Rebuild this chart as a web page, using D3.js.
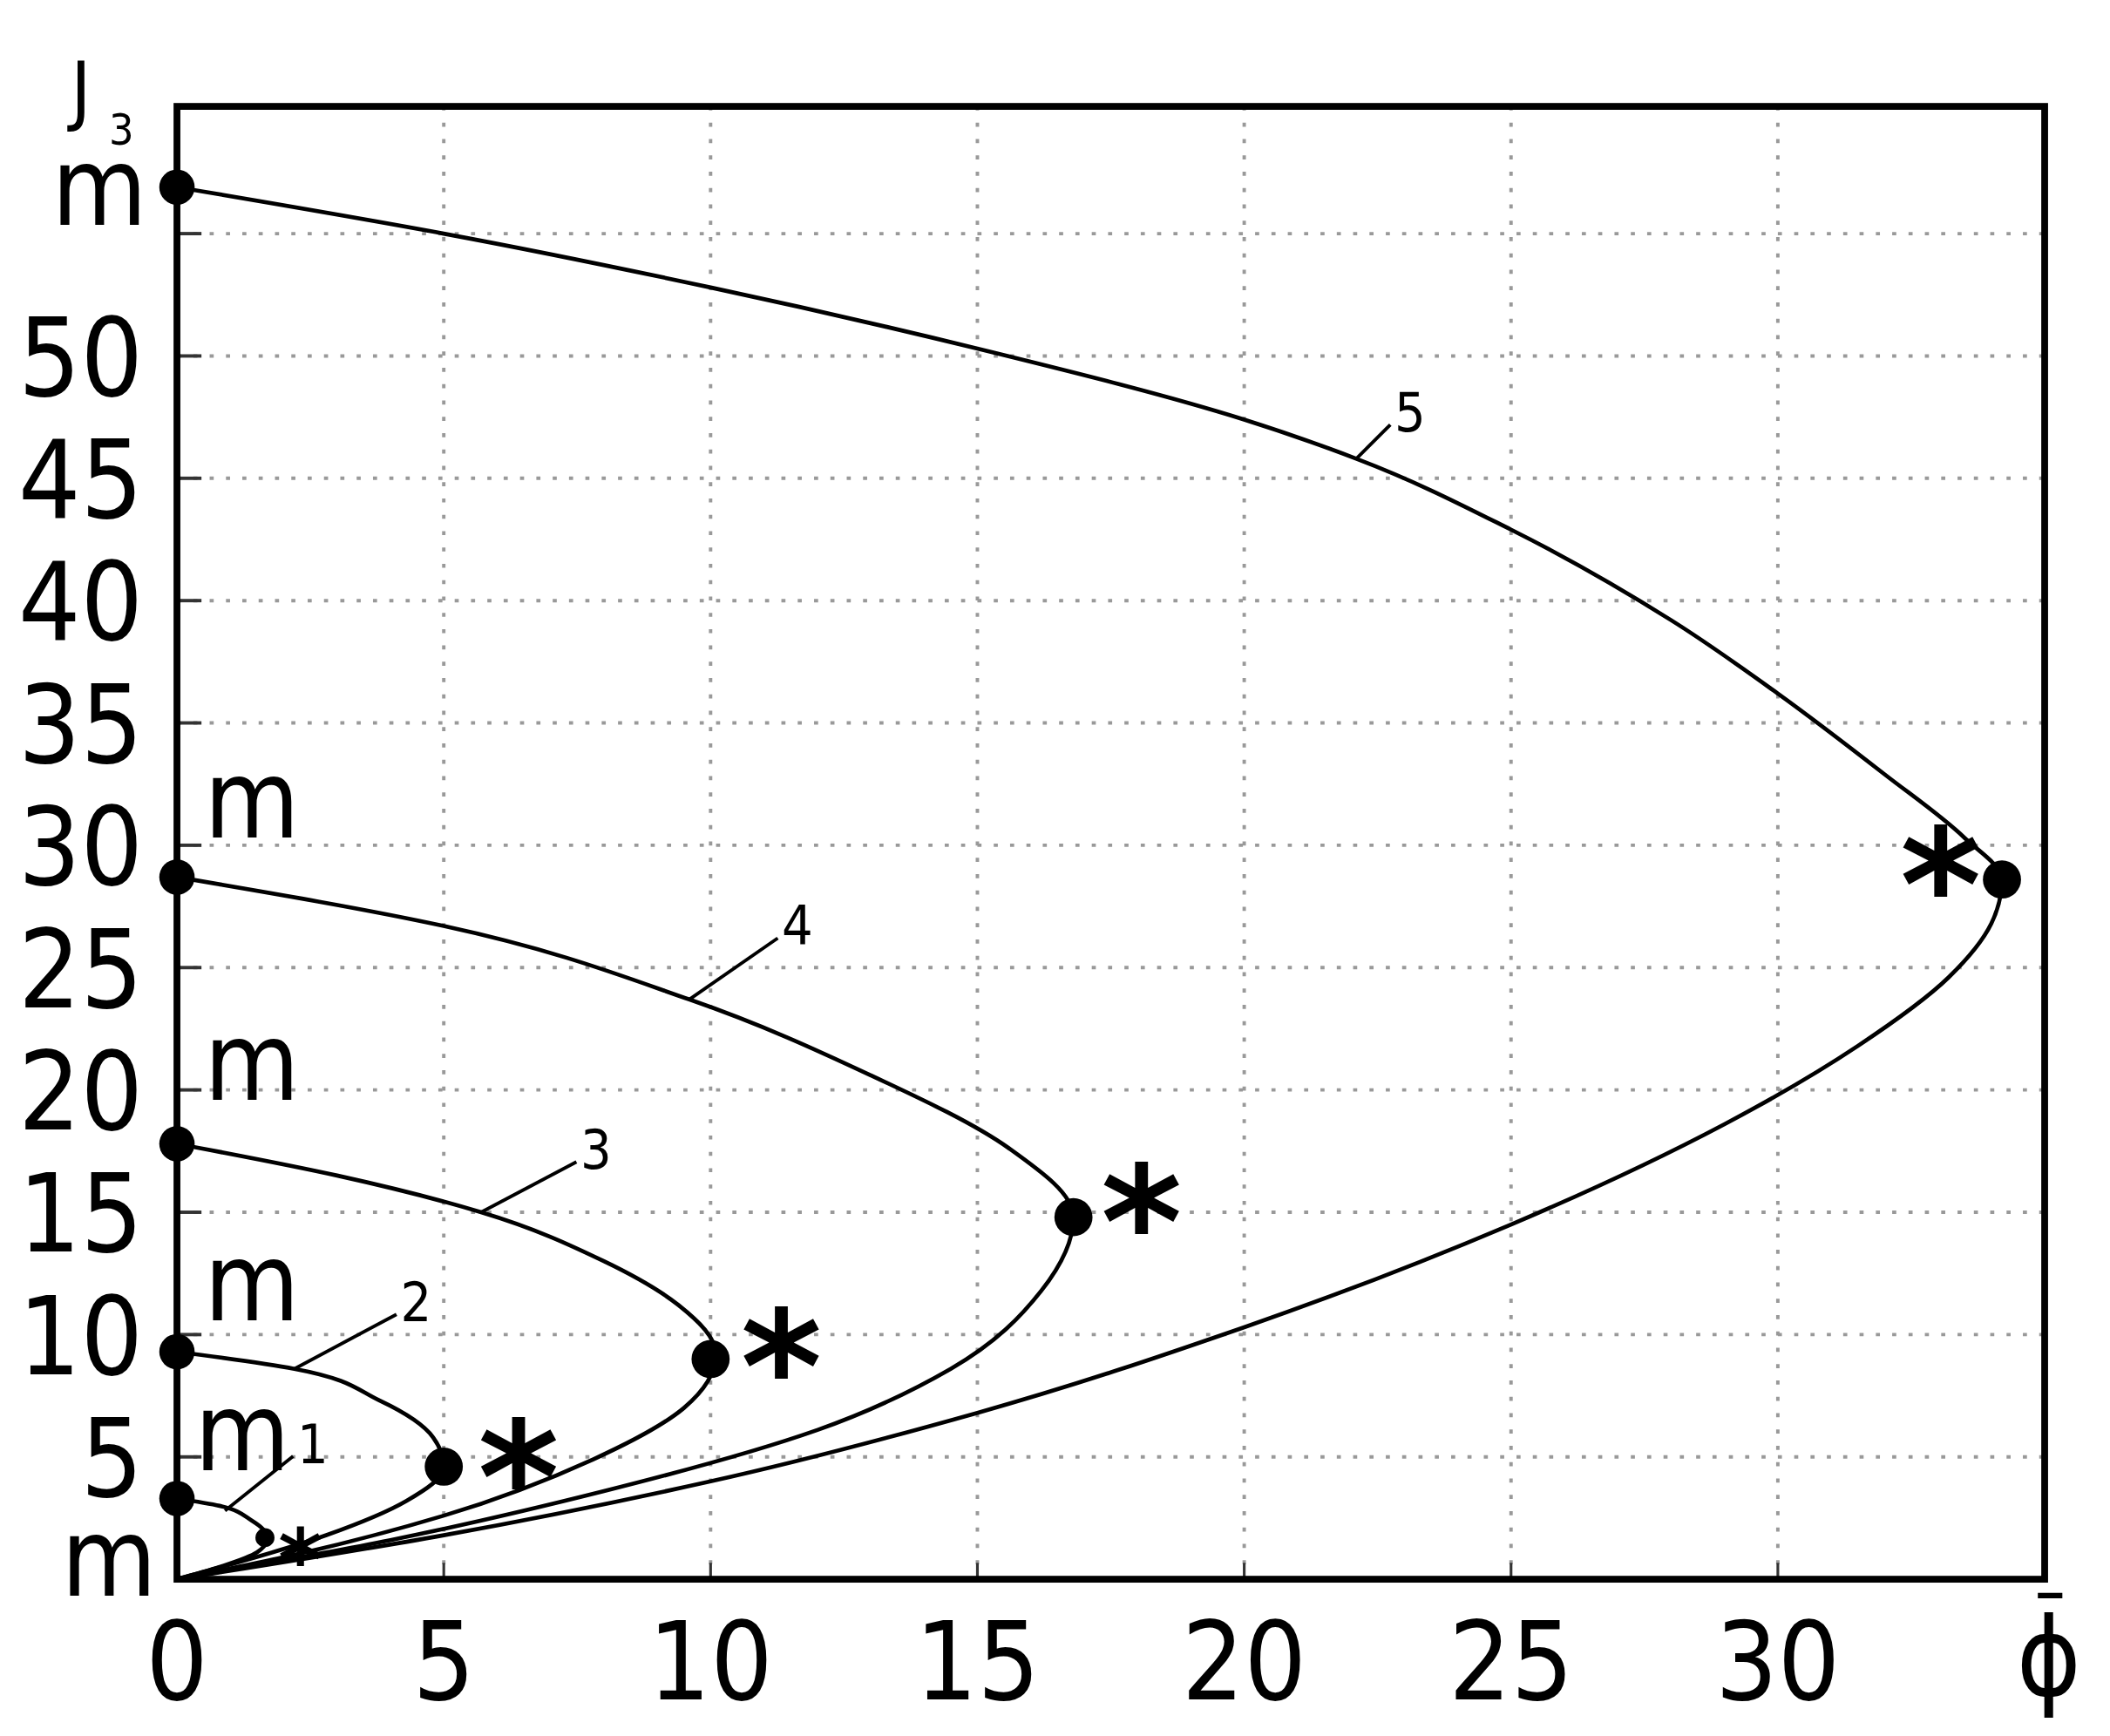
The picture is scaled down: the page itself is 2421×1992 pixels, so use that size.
<!DOCTYPE html>
<html><head><meta charset="utf-8">
<script src="https://cdn.jsdelivr.net/npm/d3@7"></script>
<style>body{margin:0;background:#fff}</style></head>
<body><svg id="c" width="2421" height="1992" viewBox="0 0 1550 1275"></svg>
<script>
const xTicks=[0,5,10,15,20,25,30];
const yTicks=[5,10,15,20,25,30,35,40,45,50];
const curve1=[[0,3.3],[0.8,3.0],[1.4,2.4],[1.7,1.7],[1.5,1.1],[0.8,0.5],[0,0]];
const curve2=[[0,9.3],[2.2,8.6],[3.8,7.3],[4.8,5.8],[5.0,4.6],[4.3,3.2],[2.8,1.8],[0,0]];
const curve3=[[0,17.8],[3,16.5],[5.7,15.0],[8,13.0],[9.4,11.2],[10.1,9.2],[9.5,7.0],[7.8,4.9],[5,2.6],[2,0.9],[0,0]];
const curve4=[[0,28.7],[5,26.7],[9.6,23.7],[13,20.6],[15.6,17.6],[16.8,14.8],[16.2,11.8],[14.5,8.6],[12,6.1],[8,3.6],[4,1.6],[0,0]];
const curve5=[[0,56.9],[5,55.0],[10,52.8],[15,50.3],[20,47.4],[22.1,45.8],[25,42.9],[28,39.2],[30,36.2],[32,32.9],[33.5,30.3],[34.2,28.6],[34.0,26.8],[33.2,24.6],[31.5,21.8],[29,18.6],[25,14.5],[20,10.3],[15,6.8],[10,4.0],[5,1.8],[0,0]];
const curves=[curve1,curve2,curve3,curve4,curve5];
const curveNames=["1","2","3","4","5"];
const tips=[[1.7,1.7],[5.0,4.6],[10.0,9.0],[16.8,14.8],[34.2,28.6]];
const labelAnchors=[[0.9,2.8],[2.2,8.6],[5.7,15.0],[9.6,23.7],[22.1,45.8]];

const svg=d3.select("#c");
const L=130,R=1502,T=78,B=1160;
const x=d3.scaleLinear().domain([0,35]).range([L,R]);
const y=d3.scaleLinear().domain([0,60.2]).range([B,T]);
const font="'DejaVu Sans Condensed','Liberation Sans Narrow',sans-serif";

const g=svg.append("g");
g.selectAll(".gx").data(xTicks.slice(1)).join("line").attr("x1",d=>x(d)).attr("x2",d=>x(d)).attr("y1",T).attr("y2",B)
 .attr("stroke","#999").attr("stroke-width",2.5).attr("stroke-dasharray","3,9");
g.selectAll(".gy").data(yTicks.concat([55])).join("line").attr("y1",d=>y(d)).attr("y2",d=>y(d)).attr("x1",L).attr("x2",R)
 .attr("stroke","#999").attr("stroke-width",2.5).attr("stroke-dasharray","3,9");
g.selectAll(".tx").data(xTicks.slice(1)).join("line").attr("x1",d=>x(d)).attr("x2",d=>x(d)).attr("y1",B).attr("y2",B-12).attr("stroke","#333").attr("stroke-width",2);
g.selectAll(".ty").data(yTicks.concat([55])).join("line").attr("y1",d=>y(d)).attr("y2",d=>y(d)).attr("x1",L).attr("x2",L+18).attr("stroke","#333").attr("stroke-width",2.5);
svg.append("rect").attr("x",L).attr("y",T).attr("width",R-L).attr("height",B-T).attr("fill","none").attr("stroke","#000").attr("stroke-width",5);

svg.selectAll(".xl").data(xTicks).join("text").attr("x",d=>x(d)).attr("y",1248).attr("text-anchor","middle")
 .attr("font-family",font).attr("font-size",80).text(d=>d);
svg.selectAll(".yl").data(yTicks).join("text").attr("x",105).attr("y",d=>y(d)+29).attr("text-anchor","end")
 .attr("font-family",font).attr("font-size",80).text(d=>d);
svg.append("text").attr("x",1505).attr("y",1245).attr("text-anchor","middle").attr("font-family",font).attr("font-size",80).text("ϕ");
svg.append("line").attr("x1",1497).attr("x2",1515).attr("y1",1172).attr("y2",1172).attr("stroke","#000").attr("stroke-width",4);
svg.append("text").attr("x",52).attr("y",85).attr("font-family",font).attr("font-size",56).text("J");
svg.append("text").attr("x",80).attr("y",106).attr("font-family",font).attr("font-size",32).text("3");

const line=d3.line().x(d=>x(d[0])).y(d=>y(d[1])).curve(d3.curveMonotoneY);
svg.selectAll(".cv").data(curves).join("path").attr("d",d=>line(d.slice().reverse())).attr("fill","none").attr("stroke","#000").attr("stroke-width",3);

svg.selectAll(".sd").data(curves).join("circle").attr("cx",d=>x(d[0][0])).attr("cy",d=>y(d[0][1])).attr("r",13).attr("fill","#000");
svg.selectAll(".td").data(tips.slice(1)).join("circle").attr("cx",d=>x(d[0])).attr("cy",d=>y(d[1])).attr("r",14).attr("fill","#000");
svg.append("circle").attr("cx",x(tips[0][0])-2).attr("cy",y(tips[0][1])).attr("r",7).attr("fill","#000");

const starPos=[[1.7,1.7,24,24,48],[5.0,4.6,55,22,88],[10.0,9.0,52,20,88],[16.8,14.8,50,18,88],[34.2,28.6,-45,18,88]];
svg.selectAll(".st").data(starPos).join("text").attr("x",d=>x(d[0])+d[2]).attr("y",d=>y(d[1])+d[3]+d[4]*0.3).attr("text-anchor","middle")
 .attr("font-family","'DejaVu Sans',sans-serif").attr("font-weight","bold").attr("font-size",d=>d[4]*1.3).text("*");

const mPos=[[73,165],[185,615],[185,808],[185,970],[178,1080],[80,1172]];
svg.selectAll(".ml").data(mPos).join("text").attr("x",d=>d[0]).attr("y",d=>d[1]).attr("text-anchor","middle")
 .attr("font-family",font).attr("font-size",80).text("m");

const offs=[[50,-40],[75,-40],[70,-37],[65,-45],[25,-25]];
labelAnchors.forEach((a,i)=>{
  const x0=x(a[0]),y0=y(a[1]);
  svg.append("line").attr("x1",x0).attr("y1",y0).attr("x2",x0+offs[i][0]).attr("y2",y0+offs[i][1]).attr("stroke","#000").attr("stroke-width",2.5);
  svg.append("text").attr("x",x0+offs[i][0]+3).attr("y",y0+offs[i][1]+5).attr("font-family",font).attr("font-size",40).text(curveNames[i]);
});
</script></body></html>
